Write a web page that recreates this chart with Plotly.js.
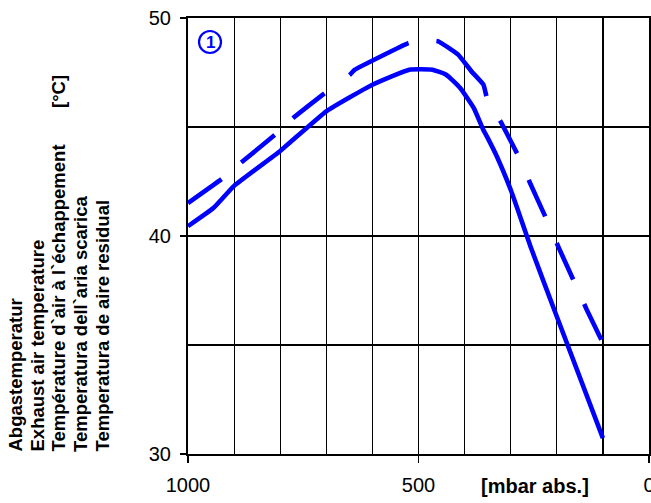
<!DOCTYPE html>
<html>
<head>
<meta charset="utf-8">
<script src="https://cdn.plot.ly/plotly-3.0.1.min.js"></script>
<style>html,body{margin:0;padding:0;background:#fff;}#chart{width:651px;height:503px;}</style>
</head>
<body>
<div id="chart"></div>
<script>
// Pressure [mbar abs.] and exhaust air temperature [°C]
var solidPressure = [1000, 945, 900, 800, 700, 600, 520, 470, 440, 410, 380, 360, 350, 330, 300, 255, 200, 100];
var solidTemp     = [40.45, 41.28, 42.3, 43.9, 45.72, 46.94, 47.63, 47.63, 47.4, 46.8, 45.87, 44.9, 44.5, 43.65, 42.12, 39.4, 36.31, 30.73];

var dashPressure = [1000, 927, 884, 811, 772, 703, 649, 638, 522, 490, 457, 414, 385, 359, 351, 320, 283, 258, 222, 197, 161, 135, 100];
var dashTemp     = [41.51, 42.61, 43.38, 44.65, 45.41, 46.56, 47.4, 47.63, 48.85, 49.0, 48.93, 48.32, 47.55, 46.94, 46.28, 45.18, 43.65, 42.43, 40.75, 39.52, 37.84, 36.62, 35.09];

var xTickVals = [1000, 500, 0];
var xTickText = ['1000', '500', '0'];
var yTickVals = [30, 40, 50];
var yTickText = ['30', '40', '50'];

var yTitleLines = [
  'Abgastemperatur',
  'Exhaust air temperature',
  'Température d`air à l`échappement',
  'Temperatura dell`aria scarica',
  'Temperatura de aire residual'
];
var yUnit = '[°C]';
var xUnit = '[mbar abs.]';
var curveLabel = '1';

// layout geometry (pixels)
var W = 651, H = 503;
var mL = 188, mR = 2, mT = 18, mB = 49;
var pw = W - mL - mR, ph = H - mT - mB;
function px(x) { return (x - mL) / pw; }
function py(y) { return (H - mB - y) / ph; }

var blue = '#0000FF';
var traces = [
  { x: solidPressure, y: solidTemp, mode: 'lines', type: 'scatter',
    line: { color: blue, width: 4.6, shape: 'spline', smoothing: 0.4 }, hoverinfo: 'skip' },
  { x: dashPressure, y: dashTemp, mode: 'lines', type: 'scatter',
    line: { color: blue, width: 4.6, dash: '41px,26px,43px,25px,40px,31px,68px,28px,77px,28px,37px,29px,40px,29px,40px,27px,40px,27px', shape: 'spline', smoothing: 0.3 }, hoverinfo: 'skip' }
];

function titleFont() { return { family: 'Liberation Sans, Arial', size: 18.5, color: '#000', weight: 700 }; }
var titleX = [15, 36.5, 58, 80, 101.5];
var annotations = yTitleLines.map(function (t, i) {
  return { text: t, xref: 'paper', yref: 'paper', x: px(titleX[i]), y: py(454),
    xanchor: 'center', yanchor: 'bottom', textangle: -90, showarrow: false,
    font: titleFont() };
});
annotations.push({ text: yUnit, xref: 'paper', yref: 'paper', x: px(59), y: py(92),
  xanchor: 'center', yanchor: 'middle', textangle: -90, showarrow: false,
  font: titleFont() });
annotations.push({ text: xUnit, xref: 'paper', yref: 'paper', x: px(535), y: py(486),
  xanchor: 'center', yanchor: 'middle', showarrow: false,
  font: { family: 'Liberation Sans, Arial', size: 20, color: '#000', weight: 700 } });
annotations.push({ text: curveLabel, xref: 'paper', yref: 'paper', x: px(210.5), y: py(42),
  xanchor: 'center', yanchor: 'middle', showarrow: false,
  font: { family: 'Liberation Sans, Arial', size: 17, color: blue, weight: 700 } });

var r = 11;
var shapes = [{ type: 'circle', xref: 'paper', yref: 'paper',
  x0: px(210 - r), x1: px(210 + r), y0: py(42 + r), y1: py(42 - r),
  line: { color: blue, width: 2.2 } }];

var layout = {
  width: W, height: H,
  margin: { l: mL, r: mR, t: mT, b: mB, pad: 0 },
  paper_bgcolor: '#fff', plot_bgcolor: '#fff',
  showlegend: false,
  font: { family: 'Liberation Sans, Arial', color: '#000' },
  xaxis: {
    range: [1000, 0], tickmode: 'array', tickvals: xTickVals, ticktext: xTickText,
    ticks: 'outside', ticklen: 7, tickwidth: 1.5, tickcolor: '#000', ticklabelstandoff: 5,
    ticklabeloverflow: 'allow',
    tickfont: { size: 20, family: 'Liberation Sans, Arial', color: '#000' },
    showgrid: true, gridcolor: '#000', gridwidth: 1.2,
    minor: { dtick: 100, showgrid: true, gridcolor: '#000', gridwidth: 1.2, ticks: '' },
    showline: true, linecolor: '#000', linewidth: 2, mirror: true, zeroline: false, fixedrange: true
  },
  yaxis: {
    range: [30, 50], tickmode: 'array', tickvals: yTickVals, ticktext: yTickText,
    ticks: 'outside', ticklen: 6, tickwidth: 1.5, tickcolor: '#000', ticklabelstandoff: 5,
    tickfont: { size: 20, family: 'Liberation Sans, Arial', color: '#000' },
    showgrid: true, gridcolor: '#000', gridwidth: 1.2,
    minor: { dtick: 5, showgrid: true, gridcolor: '#000', gridwidth: 1.2, ticks: '' },
    showline: true, linecolor: '#000', linewidth: 2, mirror: true, zeroline: false, fixedrange: true
  },
  annotations: annotations,
  shapes: shapes
};

Plotly.newPlot('chart', traces, layout, { displayModeBar: false, staticPlot: true });
</script>
</body>
</html>
